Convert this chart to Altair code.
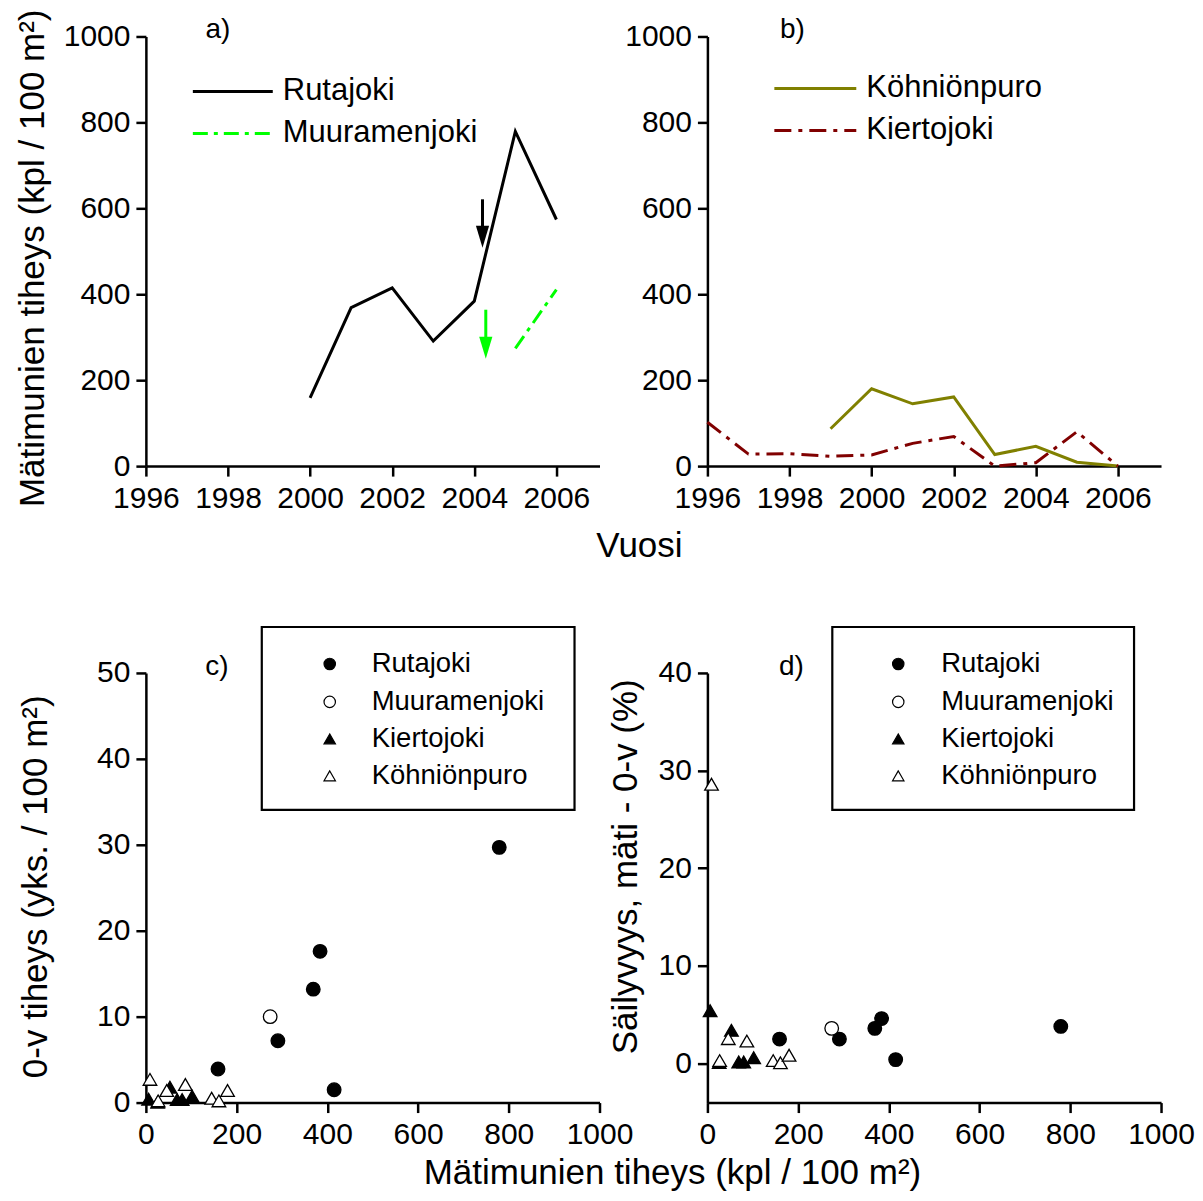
import altair as alt
import pandas as pd

FONT = "Liberation Sans"

# ---------------- data: panel a / b (egg density by year) ----------------
ruta_years = [2000, 2001, 2002, 2003, 2004, 2005, 2006]
ruta_eggs = [159, 369, 415, 291, 384, 779, 574]
muura_years = [2005, 2006]
muura_eggs = [274, 411]
kohn_years = [1999, 2000, 2001, 2002, 2003, 2004, 2005, 2006]
kohn_eggs = [87, 180, 145, 161, 27, 46, 9, 0]
kierto_years = [1996, 1997, 1998, 1999, 2000, 2001, 2002, 2003, 2004, 2005, 2006]
kierto_eggs = [102, 28, 29, 23, 26, 53, 69, 0, 8, 80, 0]

# arrows in panel a (year, start value, tip value)
arrow_colors = ["black", "#00ff00"]
arrow_x = [2004.2, 2004.28]
arrow_top = [621, 364]
arrow_tip = [508, 250]

# ---------------- data: panel c / d (scatter) ----------------
sc_ruta_eggs = [159, 369, 415, 291, 384, 779]
sc_ruta_ov = [3.9, 13.2, 1.5, 7.2, 17.6, 29.7]
sc_ruta_surv = [2.5, 3.6, 0.4, 2.5, 4.6, 3.8]
sc_muura_eggs = [274]
sc_muura_ov = [10.0]
sc_muura_surv = [3.6]
sc_kierto_eggs = [6, 26, 53, 69, 80, 102]
sc_kierto_ov = [0.4, 0.05, 1.8, 0.35, 0.35, 0.75]
sc_kierto_surv = [5.4, 0.1, 3.4, 0.17, 0.17, 0.6]
sc_kohn_eggs = [9, 27, 46, 87, 145, 161, 180]
sc_kohn_ov = [2.7, 0.2, 1.4, 2.1, 0.5, 0.2, 1.4]
sc_kohn_surv = [28.6, 0.3, 2.55, 2.3, 0.3, 0.07, 0.85]

year_ticks = [1996, 1998, 2000, 2002, 2004, 2006]
egg_ticks = [0, 200, 400, 600, 800, 1000]
ov_ticks = [0, 10, 20, 30, 40, 50]
surv_ticks = [0, 10, 20, 30, 40]

names_cd = ["Rutajoki", "Muuramenjoki", "Kiertojoki", "Köhniönpuro"]
panel_labels = ["a)", "b)", "c)", "d)"]
title_year = "Vuosi"
title_eggs = "Mätimunien tiheys (kpl / 100 m²)"
title_ov = "0-v tiheys (yks. / 100 m²)"
title_surv = "Säilyvyys, mäti - 0-v (%)"

W, H = 454, 430
DASH = [15, 6, 4, 6]
TITLE_SIZE = 35

line_style = {
    "Rutajoki": ("black", None),
    "Muuramenjoki": ("#00ff00", DASH),
    "Köhniönpuro": ("#808000", None),
    "Kiertojoki": ("#800000", [17, 7, 4, 7]),
}
point_style = {
    "Rutajoki": ("circle", "black"),
    "Muuramenjoki": ("circle", "white"),
    "Kiertojoki": ("triangle-up", "black"),
    "Köhniönpuro": ("triangle-up", "white"),
}

x_year = alt.X("year:Q", scale=alt.Scale(domain=[1996, 2007.05], nice=False, zero=False),
               axis=alt.Axis(values=year_ticks, format="d", title=None))
y_egg = alt.Y("eggs:Q", scale=alt.Scale(domain=[0, 1000], nice=False),
              axis=alt.Axis(values=egg_ticks, format="d", title=None))
x_egg = alt.X("eggs:Q", scale=alt.Scale(domain=[0, 1000], nice=False),
              axis=alt.Axis(values=egg_ticks, format="d", title=None))
y_ov = alt.Y("val:Q", scale=alt.Scale(domain=[0, 50], nice=False),
             axis=alt.Axis(values=ov_ticks, format="d", title=None))
y_surv = alt.Y("val:Q", scale=alt.Scale(domain=[-4, 40], nice=False, zero=False),
               axis=alt.Axis(values=surv_ticks, format="d", title=None))


def mline(name, years, eggs):
    color, dash = line_style[name]
    kw = dict(color=color, strokeWidth=3, strokeCap="butt")
    if dash:
        kw["strokeDash"] = dash
    df = pd.DataFrame({"year": years, "eggs": eggs})
    return alt.Chart(df).mark_line(**kw).encode(x=x_year, y=y_egg)


def legend_line(name, x0, x1, y):
    color, dash = line_style[name]
    kw = dict(color=color, strokeWidth=3, strokeCap="butt")
    if dash:
        kw["strokeDash"] = dash
    df = pd.DataFrame({"name": [name]})
    r = alt.Chart(df).mark_rule(**kw).encode(x=alt.value(x0), x2=alt.value(x1), y=alt.value(y))
    t = alt.Chart(df).mark_text(align="left", baseline="middle", font=FONT, fontSize=31,
                                color="black").encode(
        x=alt.value(x1 + 10), y=alt.value(y), text="name:N")
    return [r, t]


def text_at(s, x, y, size, angle=None):
    kw = dict(align="center", baseline="middle", font=FONT, fontSize=size, color="black")
    if angle is not None:
        kw["angle"] = angle
    return alt.Chart(pd.DataFrame({"t": [s]})).mark_text(**kw).encode(
        x=alt.value(x), y=alt.value(y), text="t:N")


# ---------------- panel a ----------------
arrows = pd.DataFrame({"year": arrow_x, "top": arrow_top, "tip": arrow_tip, "c": arrow_colors})
shaft = alt.Chart(arrows).transform_calculate(tipb="datum.tip + 24").mark_rule(
    strokeWidth=3, strokeCap="butt").encode(
    x=x_year, y=alt.Y("top:Q"), y2=alt.Y2("tipb:Q"),
    color=alt.Color("c:N", scale=None))
head = alt.Chart(arrows).mark_point(shape="M-0.6,-1L0.6,-1L0,1Z", size=484, filled=True,
                                    opacity=1, yOffset=-11).encode(
    x=x_year, y=alt.Y("tip:Q"), color=alt.Color("c:N", scale=None))

anchor = alt.Chart(pd.DataFrame({"t": [0]})).mark_rule(strokeOpacity=0, strokeWidth=0.01).encode(
    x=alt.value(-138), y=alt.value(-28), y2=alt.value(-27))

panel_a = alt.layer(
    mline("Rutajoki", ruta_years, ruta_eggs),
    mline("Muuramenjoki", muura_years, muura_eggs),
    shaft, head,
    *legend_line("Rutajoki", 47, 127, 55),
    *legend_line("Muuramenjoki", 47, 127, 97),
    text_at(panel_labels[0], 72, -6, 28),
    text_at(title_year, 494, 510, TITLE_SIZE),
    text_at(title_eggs, -113, 222, TITLE_SIZE, angle=270),
    anchor,
).properties(width=W, height=H)

# ---------------- panel b ----------------
panel_b = alt.layer(
    mline("Köhniönpuro", kohn_years, kohn_eggs),
    mline("Kiertojoki", kierto_years, kierto_eggs),
    *legend_line("Köhniönpuro", 67, 149, 52),
    *legend_line("Kiertojoki", 67, 149, 94),
    text_at(panel_labels[1], 85, -6, 28),
).properties(width=W, height=H)


# ---------------- panels c / d ----------------
def scatter(name, eggs, vals, yenc):
    shape, fill = point_style[name]
    df = pd.DataFrame({"eggs": eggs, "val": vals})
    return alt.Chart(df).mark_point(shape=shape, filled=True, fill=fill, stroke="black",
                                    strokeWidth=1.3, size=185, opacity=1).encode(x=x_egg, y=yenc)


def legend_box(x0, x1, sx, tx):
    layers = [alt.Chart(pd.DataFrame({"t": [0]})).mark_rect(
        filled=False, stroke="black", strokeWidth=2.2).encode(
        x=alt.value(x0), x2=alt.value(x1), y=alt.value(-46), y2=alt.value(137))]
    rows = [-9, 29, 66, 103]
    for name, ry in zip(names_cd, rows):
        shape, fill = point_style[name]
        df = pd.DataFrame({"name": [name]})
        layers.append(alt.Chart(df).mark_point(shape=shape, filled=True, fill=fill,
                                               stroke="black", strokeWidth=1.2, size=130,
                                               opacity=1).encode(
            x=alt.value(sx), y=alt.value(ry)))
        layers.append(alt.Chart(df).mark_text(align="left", baseline="middle", font=FONT,
                                              fontSize=27.5, color="black").encode(
            x=alt.value(tx), y=alt.value(ry), text="name:N"))
    return layers


panel_c = alt.layer(
    scatter("Rutajoki", sc_ruta_eggs, sc_ruta_ov, y_ov),
    scatter("Muuramenjoki", sc_muura_eggs, sc_muura_ov, y_ov),
    scatter("Kiertojoki", sc_kierto_eggs, sc_kierto_ov, y_ov),
    scatter("Köhniönpuro", sc_kohn_eggs, sc_kohn_ov, y_ov),
    *legend_box(116, 429, 184, 226),
    text_at(panel_labels[2], 71, -6, 28),
    text_at(title_ov, -110, 214, TITLE_SIZE, angle=270),
    text_at(title_eggs, 527, 500, TITLE_SIZE),
).properties(width=W, height=H)

panel_d = alt.layer(
    scatter("Rutajoki", sc_ruta_eggs, sc_ruta_surv, y_surv),
    scatter("Muuramenjoki", sc_muura_eggs, sc_muura_surv, y_surv),
    scatter("Kiertojoki", sc_kierto_eggs, sc_kierto_surv, y_surv),
    scatter("Köhniönpuro", sc_kohn_eggs, sc_kohn_surv, y_surv),
    *legend_box(125, 427, 191, 234),
    text_at(panel_labels[3], 84, -6, 28),
    text_at(title_surv, -81, 194, TITLE_SIZE, angle=270),
).properties(width=W, height=H)

chart = alt.concat(
    panel_a, panel_b, panel_c, panel_d,
    columns=2,
    spacing={"row": 207, "column": 108},
    bounds="flush",
).properties(padding=0, background="white").configure_view(
    stroke=None
).configure_axis(
    grid=False,
    domainColor="black", domainWidth=2.5,
    tickColor="black", tickWidth=2.5, tickSize=10,
    labelFont=FONT, labelFontSize=30, labelColor="black",
    labelFlush=False, labelOverlap=False,
).configure_axisX(labelPadding=7).configure_axisY(labelPadding=6)

chart.save("out.html", embed_options={"renderer": "svg", "actions": False})
